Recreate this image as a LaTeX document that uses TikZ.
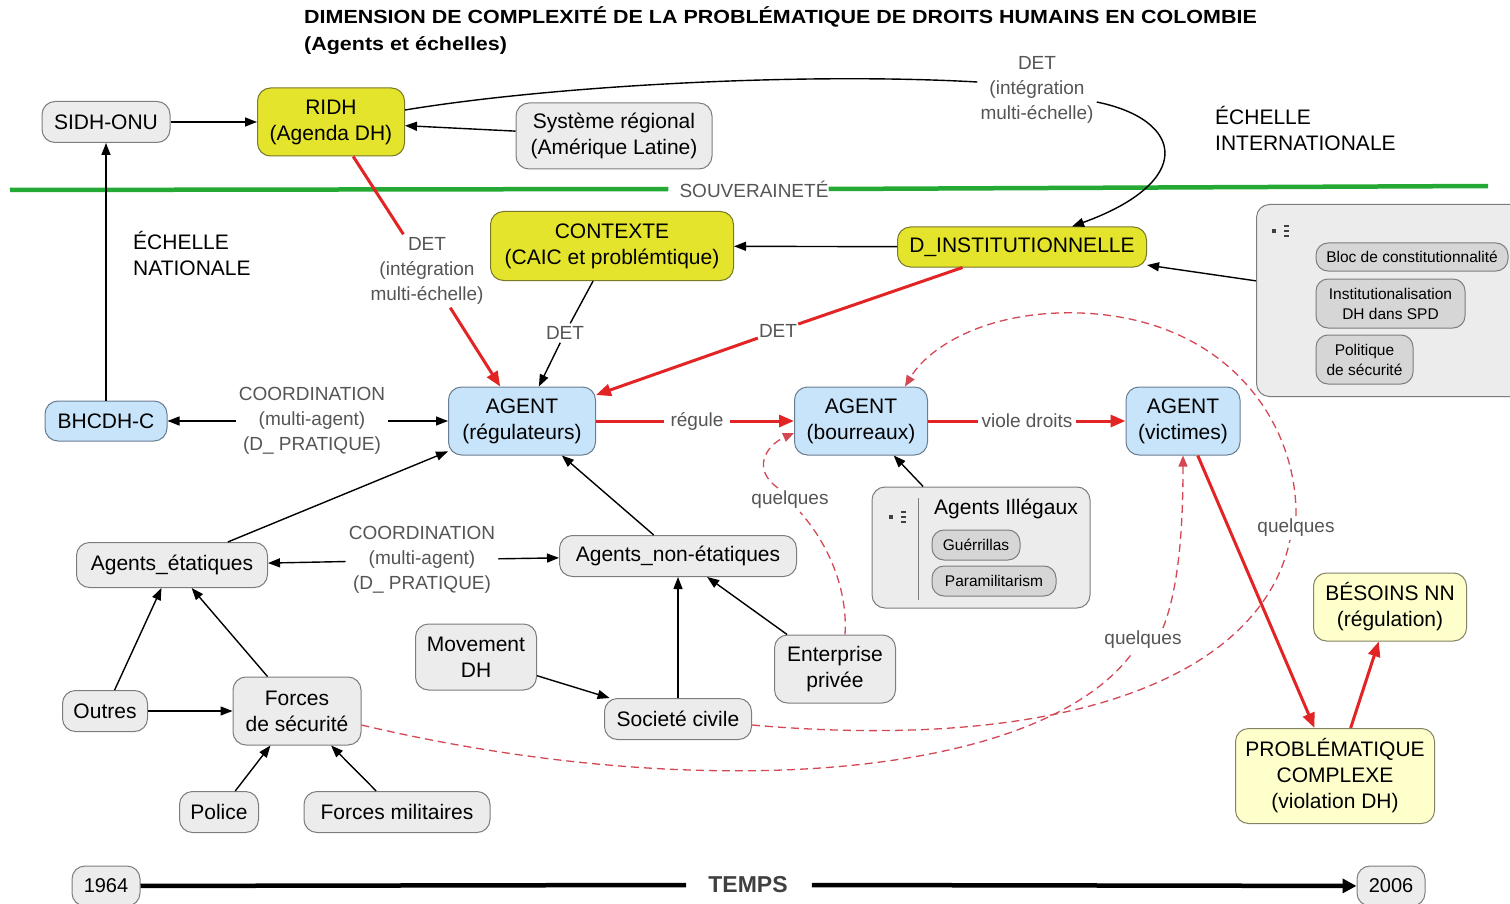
\documentclass[tikz,border=0pt]{standalone}
\usepackage{fontspec}
\usepackage{graphicx}
\setmainfont{Liberation Sans}
\usetikzlibrary{arrows.meta,calc}
\definecolor{yel}{RGB}{228,228,44}
\definecolor{yelbord}{RGB}{120,120,40}
\definecolor{bluebox}{RGB}{200,228,250}
\definecolor{bluebord}{RGB}{105,125,145}
\definecolor{boxgray}{RGB}{236,236,236}
\definecolor{bordgray}{RGB}{125,125,125}
\definecolor{itemgray}{RGB}{214,214,214}
\definecolor{lightyel}{RGB}{255,255,204}
\definecolor{lyelbord}{RGB}{130,130,100}
\definecolor{lblgray}{RGB}{85,85,85}
\definecolor{redc}{RGB}{226,36,36}
\definecolor{dashred}{RGB}{212,72,86}
\definecolor{greenc}{RGB}{36,170,52}
\newcommand\mynodefont{\fontsize{21}{26}\selectfont}
\newcommand\mylblfont{\fontsize{19}{25}\selectfont}
\newcommand\myitemfont{\fontsize{15.5}{20}\selectfont}
\tikzset{
  box/.style={draw=bordgray, line width=1pt, rounded corners=13pt, align=center, inner sep=0pt, font=\mynodefont, text=black},
  gbox/.style={box, fill=boxgray},
  ybox/.style={box, fill=yel, draw=yelbord},
  bbox/.style={box, fill=bluebox, draw=bluebord},
  lybox/.style={box, fill=lightyel, draw=lyelbord},
  ibox/.style={box, fill=itemgray, rounded corners=12pt, font=\myitemfont},
  lbl/.style={text=lblgray, align=center, font=\mylblfont, inner sep=3pt},
  blk/.style={text=black, align=left, font=\mynodefont, inner sep=0pt},
  con/.style={line width=1.4pt, draw=black},
  arr/.style={con, -{Triangle[length=12pt,width=9pt]}},
  rcon/.style={line width=3pt, draw=redc},
  rarr/.style={rcon, -{Triangle[length=15pt,width=12pt]}},
  dcon/.style={line width=1.3pt, draw=dashred, dash pattern=on 8pt off 5pt},
  darr/.style={dcon, -{Triangle[length=11pt,width=9pt]}},
  icon/.style={fill=black!75, draw=none, inner sep=0pt}
}
\begin{document}
\begin{tikzpicture}[x=1pt,y=-1pt]
\useasboundingbox (0,0) rectangle (1510,904);
\clip (0,0) rectangle (1510,904);
\fill[white] (0,0) rectangle (1510,904);

% title
\node[anchor=west, inner sep=0pt] (title) at (304,31.5)
  {\scalebox{1.13}[1]{\fontsize{19}{27}\selectfont\bfseries\begin{tabular}{@{}l@{}}DIMENSION DE COMPLEXITÉ DE LA PROBLÉMATIQUE DE DROITS HUMAINS EN COLOMBIE\\(Agents et échelles)\end{tabular}}};

% international scale
\node[gbox, minimum width=128, minimum height=41] (sidh) at (106,122) {SIDH-ONU};
\node[ybox, minimum width=147, minimum height=68] (ridh) at (331,122) {RIDH\\(Agenda DH)};
\node[gbox, minimum width=196, minimum height=66] (sysreg) at (614,136) {Système régional\\(Amérique Latine)};
\node[lbl] (det1) at (1037,90) {DET\\(intégration\\multi-échelle)};
\node[blk, anchor=west] (echint) at (1215,128) {ÉCHELLE\\INTERNATIONALE};

% sovereignty line
\coordinate (gl) at (10,190);
\coordinate (gr) at (1488,186);
\node[lbl, inner sep=0pt] (souv) at (754,189) {SOUVERAINETÉ};
\draw[greenc, line width=4.5pt] (gl) -- ([xshift=-11pt]souv.west);
\draw[greenc, line width=4.5pt] (souv.east) -- (gr);

% national scale
\node[blk, anchor=west] (echnat) at (133,253.5) {ÉCHELLE\\NATIONALE};
\node[lbl] (det2) at (427,271) {DET\\(intégration\\multi-échelle)};
\node[ybox, minimum width=243, minimum height=69] (ctx) at (612,246) {CONTEXTE\\(CAIC et problémtique)};
\node[ybox, minimum width=249, minimum height=40] (dinst) at (1022,247) {D\_INSTITUTIONNELLE};

% institutional panel
\node[gbox, minimum width=270, minimum height=192, anchor=north west] (panel) at (1256,204) {};
\node[icon, minimum width=4, minimum height=4] (picon) at (1274,231) {};
\node[icon, minimum width=5, minimum height=2.2] (pd1) at (1286,226) {};
\node[icon, minimum width=5, minimum height=2.2] (pd2) at (1286,231) {};
\node[icon, minimum width=5, minimum height=2.2] (pd3) at (1286,236) {};
\node[ibox, minimum width=192, minimum height=28] (bloc) at (1412,257) {Bloc de constitutionnalité};
\node[ibox, minimum width=149, minimum height=49] (instit) at (1390.5,303.5) {Institutionalisation\\DH dans SPD};
\node[ibox, minimum width=97, minimum height=49] (polit) at (1364.5,359.5) {Politique\\de sécurité};

\node[lbl] (det3) at (565,333) {DET};
\node[lbl, inner sep=1pt] (det4) at (778,331) {DET};

% agents row
\node[bbox, minimum width=122, minimum height=40] (bhcdh) at (106,421) {BHCDH-C};
\node[lbl] (coord1) at (312,421) {COORDINATION\\(multi-agent)\\(D\_ PRATIQUE)};
\node[bbox, minimum width=147, minimum height=68] (reg) at (522,421) {AGENT\\(régulateurs)};
\node[lbl, inner sep=6pt] (regule) at (697,421) {régule};
\node[bbox, minimum width=133, minimum height=68] (bour) at (861,421) {AGENT\\(bourreaux)};
\node[lbl, inner sep=3pt] (viole) at (1027,421) {viole droits};
\node[bbox, minimum width=114, minimum height=68] (vic) at (1183,421) {AGENT\\(victimes)};

% illegal agents panel
\node[gbox, minimum width=218, minimum height=121] (illeg) at (981,547.5) {};
\node[icon, minimum width=4, minimum height=4] (iicon) at (891,517) {};
\node[icon, minimum width=5, minimum height=2.2] (id1) at (903,512) {};
\node[icon, minimum width=5, minimum height=2.2] (id2) at (903,517) {};
\node[icon, minimum width=5, minimum height=2.2] (id3) at (903,522) {};
\coordinate (divt) at (918,498);
\coordinate (divb) at (918,600);
\draw[bordgray, line width=1pt] (divt) -- (divb);
\node[blk] (illegt) at (1006,509) {Agents Illégaux};
\node[ibox, minimum width=88, minimum height=30] (guer) at (976,545) {Guérrillas};
\node[ibox, minimum width=124, minimum height=30] (para) at (994,581) {Paramilitarism};

\node[lbl] (q1) at (790,500) {quelques};
\node[lbl] (q2) at (1296,528) {quelques};
\node[lbl] (q3) at (1143,640) {quelques};

% lower part
\node[gbox, minimum width=191, minimum height=45] (etat) at (172,565) {Agents\_étatiques};
\node[lbl] (coord2) at (422,560) {COORDINATION\\(multi-agent)\\(D\_ PRATIQUE)};
\node[gbox, minimum width=237, minimum height=41] (nonetat) at (678,556) {Agents\_non-étatiques};
\node[gbox, minimum width=121, minimum height=66] (mov) at (476,657) {Movement\\DH};
\node[gbox, minimum width=121, minimum height=68] (ent) at (835,669) {Enterprise\\privée};
\node[lybox, minimum width=153, minimum height=68] (besoins) at (1390,607) {BÉSOINS NN\\(régulation)};
\node[gbox, minimum width=85, minimum height=41] (outres) at (105,711) {Outres};
\node[gbox, minimum width=128, minimum height=68] (forces) at (297,711) {Forces\\de sécurité};
\node[gbox, minimum width=147, minimum height=41] (soc) at (678,719) {Societé civile};
\node[lybox, minimum width=199, minimum height=95] (prob) at (1335,776) {PROBLÉMATIQUE\\COMPLEXE\\(violation DH)};
\node[gbox, minimum width=79, minimum height=41] (police) at (219,812) {Police};
\node[gbox, minimum width=186, minimum height=41] (mil) at (397,812) {Forces militaires};

% timeline
\node[gbox, minimum width=68, minimum height=40, font=\fontsize{20}{24}\selectfont] (y1964) at (106,886) {1964};
\node[gbox, minimum width=68, minimum height=40, font=\fontsize{20}{24}\selectfont] (y2006) at (1391,886) {2006};
\node[font=\fontsize{23}{27}\selectfont\bfseries, text=black!75, inner sep=0pt] (temps) at (748,885) {TEMPS};
\draw[line width=4.5pt] (y1964) -- ([xshift=-22pt]temps.west);
\draw[line width=4.5pt, -{Triangle[length=14pt,width=14pt]}] ([xshift=24pt]temps.east) -- (y2006);

% ---- connectors ----
\draw[arr] (sidh) -- (ridh);
\draw[arr] (sysreg) -- (ridh);
\draw[con] ([yshift=12pt]ridh.east) .. controls (550,86) and (800,72) .. ([yshift=8pt]det1.west);
\draw[arr] ([yshift=-12pt]det1.east) .. controls (1185,120) and (1195,182) .. ([xshift=50pt]dinst.north);
\draw[rcon] (ridh) -- (det2);
\draw[rarr] (det2) -- (reg);
\draw[con] (ctx) -- (det3);
\draw[arr] (det3) -- (reg);
\draw[arr] (dinst) -- (ctx);
\draw[arr] (panel) -- (dinst);
\draw[rcon] (dinst) -- (det4);
\draw[rarr] (det4) -- (reg);
\draw[arr] (bhcdh) -- (sidh);
\draw[arr] (coord1) -- (bhcdh);
\draw[arr] (coord1) -- (reg);
\draw[rcon] (reg) -- (regule);
\draw[rarr] (regule) -- (bour);
\draw[rcon] (bour) -- (viole);
\draw[rarr] (viole) -- (vic);
\draw[arr] (illeg) -- (bour);
\draw[arr] (etat) -- (reg);
\draw[arr] (nonetat) -- (reg);
\draw[arr] (coord2) -- (etat);
\draw[arr] (coord2) -- (nonetat);
\draw[arr] (outres) -- (etat);
\draw[arr] (forces) -- (etat);
\draw[arr] (outres) -- (forces);
\draw[arr] (police) -- (forces);
\draw[arr] (mil) -- (forces);
\draw[arr] (mov) -- (soc);
\draw[arr] (soc) -- (nonetat);
\draw[arr] (ent) -- (nonetat);
\draw[rarr] (vic) -- (prob);
\draw[rarr] (prob) -- (besoins);

% dashed "quelques" relations
\draw[dcon] ([xshift=10pt]ent.north) .. controls (848,585) and (825,540) .. ([xshift=10pt]q1.south);
\draw[darr] ([xshift=-12pt]q1.north) .. controls (752,470) and (765,446) .. ([yshift=-12pt]bour.west);
\draw[dcon] ([yshift=-6pt]soc.east) .. controls (1060,752) and (1260,680) .. ([xshift=-6pt]q2.south);
\draw[darr] (q2.north) .. controls (1297,420) and (1225,318) .. (1080,313) .. controls (990,310) and (930,345) .. ([xshift=44pt]bour.north);
\draw[dcon] ([yshift=-14pt]forces.east) .. controls (700,805) and (1040,780) .. ([xshift=-10pt]q3.south);
\draw[darr] ([xshift=20pt]q3.north) .. controls (1180,585) and (1183,520) .. (vic.south);
\end{tikzpicture}
\end{document}
